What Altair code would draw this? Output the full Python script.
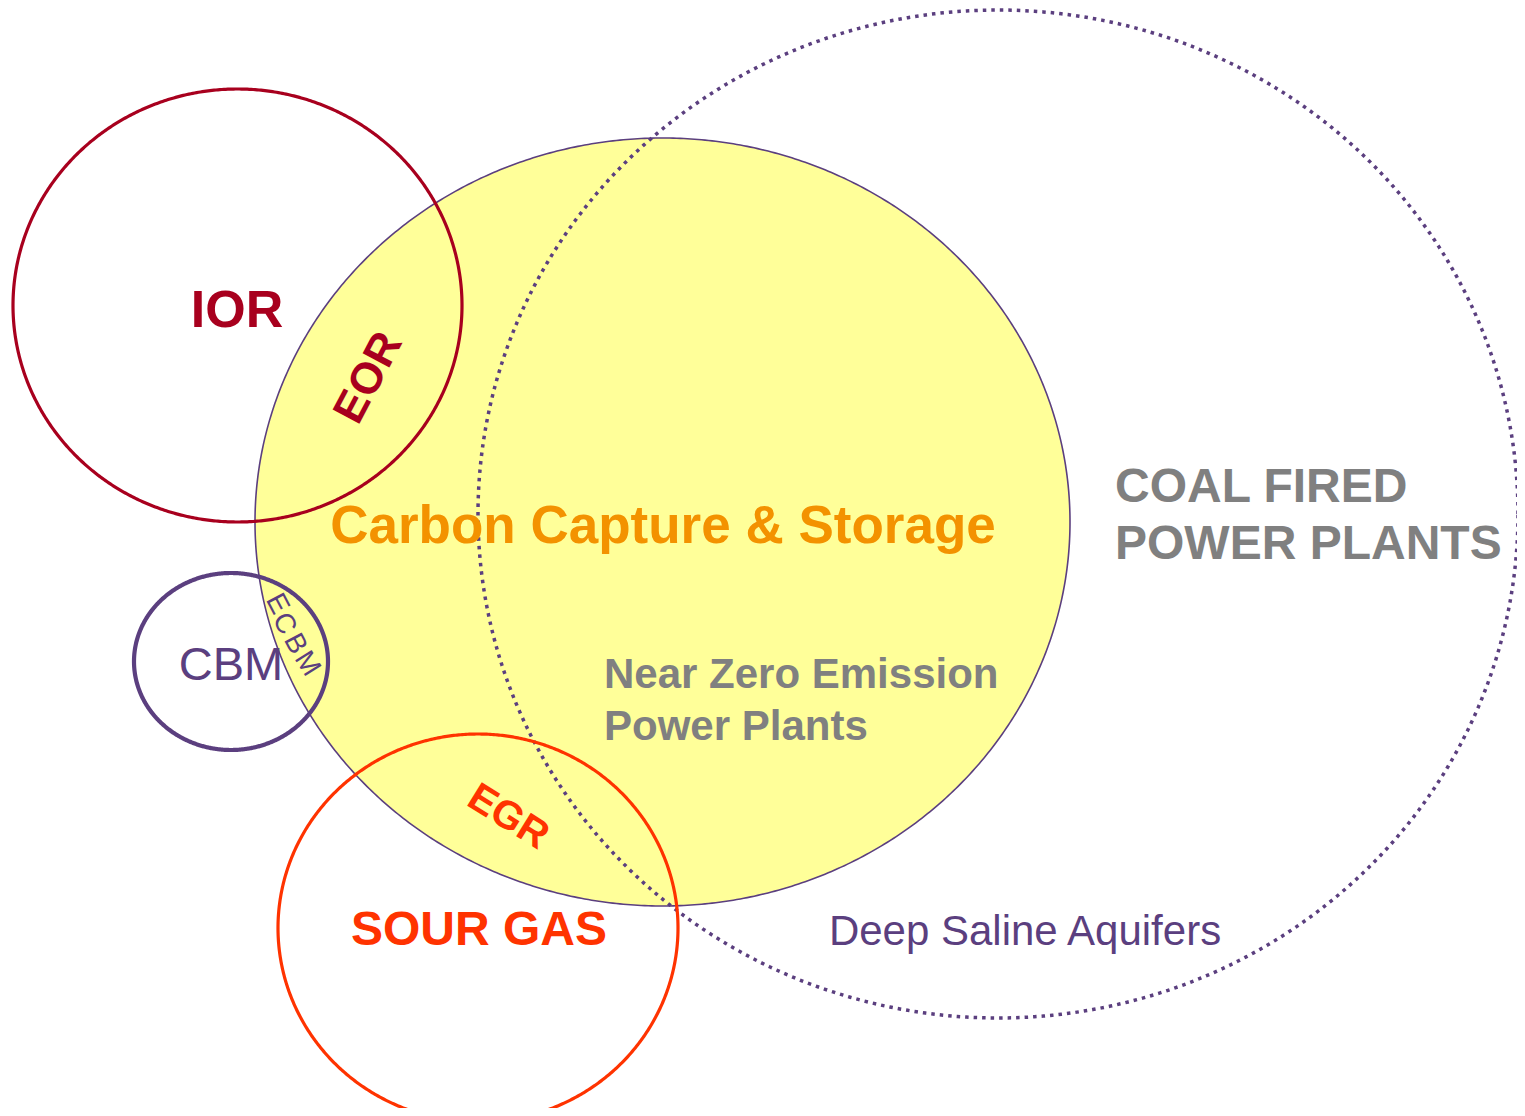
import altair as alt
import numpy as np
import pandas as pd

# ---- shapes (pixel coordinates of the picture) ----
shape_names = ["CCS", "Coal", "IOR", "CBM", "SourGas"]
shape_cx = [662.5, 998.0, 237.5, 231.0, 478.0]
shape_cy = [522.0, 514.0, 305.5, 661.5, 928.0]
shape_rx = [407.5, 520.0, 224.5, 97.0, 200.0]
shape_ry = [384.0, 504.0, 216.5, 88.5, 194.0]
shape_stroke = ["#5B3F7F", "#5B3F7F", "#A8001E", "#5B3F7F", "#FF3300"]
shape_width = [1.6, 3.5, 3.2, 4.2, 3.2]

# ---- labels ----
label_text = ["IOR", "EOR", "Carbon Capture & Storage", "COAL FIRED", "POWER PLANTS",
              "Near Zero Emission", "Power Plants", "CBM", "EGR", "SOUR GAS",
              "Deep Saline Aquifers", "E", "C", "B", "M"]
label_x = [237, 369, 663, 1115, 1115, 604, 604, 231, 508, 479, 1025, 277, 284, 295, 307]
label_y = [327, 378, 543, 502, 559, 688, 740, 680, 817, 945, 945, 604, 624, 644, 664]
label_color = ["#A8001E", "#A8001E", "#F39200", "#808080", "#808080", "#808080", "#808080",
               "#5B3F7F", "#FF3300", "#FF3300", "#5B3F7F",
               "#5B3F7F", "#5B3F7F", "#5B3F7F", "#5B3F7F"]
label_size = [52, 44, 53, 48, 48, 42, 42, 47, 40, 48, 42, 28, 28, 28, 28]
label_bold = [True, True, True, True, True, True, True, False, True, True, False,
              False, False, False, False]
label_angle = [0, 298, 0, 0, 0, 0, 0, 0, 32, 0, 0, 62, 63, 62, 58]
label_align = ["center", "center", "center", "left", "left", "left", "left", "center",
               "center", "center", "center", "center", "center", "center", "center"]

FONT = "Liberation Sans"
W, H = 1509, 1100
xs = alt.Scale(domain=[8, 8 + W], nice=False, zero=False)
ys = alt.Scale(domain=[8, 8 + H], nice=False, zero=False, reverse=True)

t = np.linspace(0, 2 * np.pi, 721)
rows = []
for i, n in enumerate(shape_names):
    for k, tt in enumerate(t):
        rows.append({"shape": n, "k": k,
                     "x": shape_cx[i] + shape_rx[i] * np.cos(tt),
                     "y": shape_cy[i] - shape_ry[i] * np.sin(tt)})
outline = pd.DataFrame(rows)

# filled yellow CCS area (upper and lower halves)
th = np.linspace(0, np.pi, 721)
fill_df = pd.DataFrame({
    "x": shape_cx[0] + shape_rx[0] * np.cos(th),
    "y": shape_cy[0] - shape_ry[0] * np.sin(th),
    "y2": shape_cy[0] + shape_ry[0] * np.sin(th),
})

layers = []
layers.append(
    alt.Chart(fill_df).mark_area(color="#FFFF99", opacity=1, clip=True).encode(
        x=alt.X("x:Q", scale=xs, axis=None),
        y=alt.Y("y:Q", scale=ys, axis=None),
        y2="y2:Q",
    )
)

for i, n in enumerate(shape_names):
    kw = dict(color=shape_stroke[i], strokeWidth=shape_width[i], clip=True)
    if n == "Coal":
        kw["strokeDash"] = [3.5, 5]
    layers.append(
        alt.Chart(outline).transform_filter(alt.datum.shape == n).mark_line(**kw).encode(
            x=alt.X("x:Q", scale=xs, axis=None),
            y=alt.Y("y:Q", scale=ys, axis=None),
            order="k:Q",
        )
    )

labels = pd.DataFrame({"text": label_text, "x": label_x, "y": label_y})
for i in range(len(label_text)):
    rotated = label_angle[i] != 0
    layers.append(
        alt.Chart(labels.iloc[[i]]).mark_text(
            font=FONT,
            fontSize=label_size[i],
            fontWeight="bold" if label_bold[i] else "normal",
            color=label_color[i],
            align=label_align[i],
            baseline="middle" if rotated else "alphabetic",
            angle=label_angle[i],
        ).encode(
            x=alt.X("x:Q", scale=xs, axis=None),
            y=alt.Y("y:Q", scale=ys, axis=None),
            text="text:N",
        )
    )

chart = alt.layer(*layers).properties(
    width=W, height=H, padding=0, background="white",
    autosize=alt.AutoSizeParams(type="none"),
).configure_view(strokeWidth=0, stroke="transparent")

chart.save("out.html", embed_options={"renderer": "svg", "actions": False})
